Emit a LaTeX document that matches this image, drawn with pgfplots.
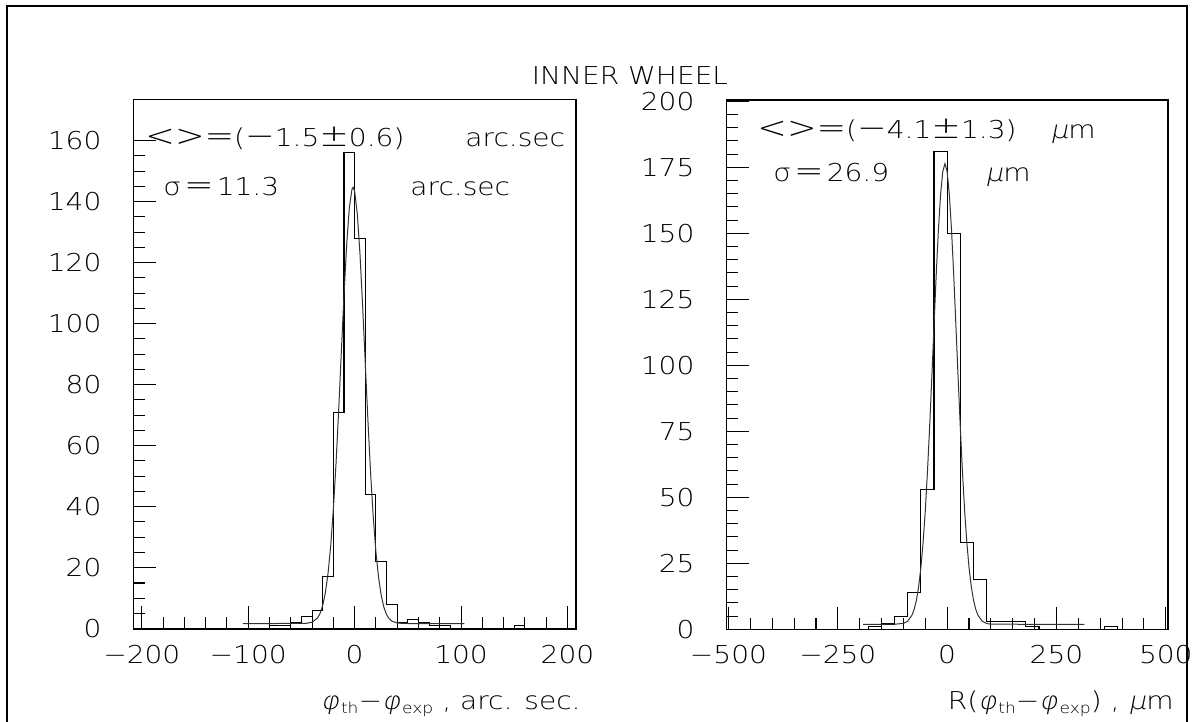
\documentclass[border=0pt]{standalone}
\usepackage{fontspec}
\setmainfont{DejaVuSans-ExtraLight}[Extension=.ttf, FakeStretch=1.14]
\newfontfamily\slfont{DejaVuSans-ExtraLight}[Extension=.ttf, FakeStretch=1.14, FakeSlant=0.2]
\usepackage{pgfplots}
\pgfplotsset{compat=1.18}
\newcommand\sub[1]{\kern0.8pt\raisebox{-0.35ex}{\fontsize{7.5pt}{8pt}\selectfont #1}}
\newcommand\B[1]{{\fontsize{15.5pt}{16pt}\selectfont #1}}
\pgfplotsset{
  hb/.style={
    scale only axis,
    axis line style={line width=0.8pt},
    tick align=inside, tick pos=left,
    major tick length=11.35pt, minor tick length=5.85pt,
    every tick/.style={line width=0.55pt, black},
    /pgf/number format/assume math mode=true,
    yticklabel style={xshift=-12.4pt},
    xticklabel style={yshift=-4.6pt},
    clip=false,
  },
  hist/.style={const plot, line width=0.55pt, black, mark=none},
  fit/.style={line width=0.5pt, black!80, mark=none},
}
\begin{document}
\begin{tikzpicture}[font=\fontsize{12.3pt}{14pt}\selectfont]
\useasboundingbox (0,0) rectangle (600.5pt,-361pt);
\draw[line width=0.9pt] (3.5pt,-362pt) -- (3.5pt,-3pt) -- (593.5pt,-3pt) -- (593.5pt,-362pt);

% left panel
\begin{axis}[hb, at={(66.65pt,-314.35pt)}, anchor=south west,
  width=221.35pt, height=264.6pt,
  xmin=-208, xmax=208, ymin=0, ymax=173.5,
  xtick={-200,-100,0,100,200}, xticklabels={−200,−100,0,100,200},
  minor x tick num=4,
  ytick={0,20,...,160}, minor y tick num=3]
\addplot[hist] coordinates {(-200,0) (-80,1) (-70,1) (-60,2) (-50,4) (-40,6) (-30,17) (-20,71) (-10,156) (0,128) (10,44) (20,22) (30,8) (40,2) (50,3) (60,2) (70,1) (80,1) (90,0) (150,1) (160,0) (200,0)};
\addplot[fit] coordinates {(-105,1.7) (-50,1.71) (-45,1.79) (-40,2.13) (-35,3.46) (-32.5,5.0) (-30,7.65) (-27.5,11.83) (-25,18.15) (-22.5,27.2) (-20,39.2) (-17.5,54.2) (-15,71.7) (-12.5,90.8) (-10,109.5) (-7.5,125.9) (-5,138.0) (-2.5,144.1) (-1.5,144.7) (0,143.4) (2.5,136.0) (5,122.9) (7.5,105.8) (10,86.9) (12.5,68.1) (15,51.0) (17.5,36.5) (20,25.1) (22.5,16.7) (25,10.84) (27.5,7.0) (30,4.63) (32.5,3.25) (35,2.48) (40,1.87) (45,1.74) (50,1.7) (103,1.7)};
\end{axis}

% right panel
\begin{axis}[hb, at={(363.15pt,-314.65pt)}, anchor=south west,
  width=220.85pt, height=264.65pt,
  xmin=-505, xmax=505, ymin=0, ymax=200.5,
  xtick={-500,-250,0,250,500}, xticklabels={−500,−250,0,250,500},
  minor x tick num=4,
  ytick={0,25,...,200}, minor y tick num=4]
\addplot[hist] coordinates {(-500,0) (-180,1) (-150,2) (-120,5) (-90,14) (-60,53) (-30,181) (0,150) (30,33) (60,19) (90,3) (120,3) (150,3) (180,1) (210,0) (360,1) (390,0) (500,0)};
\addplot[fit] coordinates {(-192,1.9) (-120,1.92) (-100,2.24) (-90,3.08) (-80,5.48) (-75,7.8) (-70,11.3) (-65,16.4) (-60,23.5) (-55,32.9) (-50,44.9) (-45,59.7) (-40,76.8) (-35,95.6) (-30,115.2) (-25,134.3) (-20,151.3) (-15,164.7) (-10,173.4) (-5,176.4) (0,173.4) (5,164.7) (10,151.3) (15,134.3) (20,115.2) (25,95.6) (30,76.8) (35,59.7) (40,44.9) (45,32.9) (50,23.5) (55,16.4) (60,11.3) (65,7.8) (70,5.48) (80,3.08) (90,2.24) (100,1.92) (314,1.9)};
\end{axis}

% texts
\node[anchor=base, inner sep=0pt] at (315pt,-42.5pt) {INNER WHEEL};
\node[anchor=base west, inner sep=0pt] at (72.5pt,-73.5pt) {\B{<}\B{>}\B{=}(\B{−}1.5\B{±}0.6)};
\node[anchor=base west, inner sep=0pt] at (232.5pt,-73.5pt) {arc.sec};
\node[anchor=base west, inner sep=0pt] at (81.5pt,-98pt) {σ\kern1.5pt\B{=}\kern1.5pt11.3};
\node[anchor=base west, inner sep=0pt] at (205pt,-98pt) {arc.sec};
\node[anchor=base west, inner sep=0pt] at (378.5pt,-69.5pt) {\B{<}\B{>}\B{=}(\B{−}4.1\B{±}1.3)};
\node[anchor=base west, inner sep=0pt] at (525pt,-69.5pt) {{\slfont μ}m};
\node[anchor=base west, inner sep=0pt] at (386.5pt,-91pt) {σ\kern1.5pt\B{=}\kern1.5pt26.9};
\node[anchor=base west, inner sep=0pt] at (492.5pt,-91pt) {{\slfont μ}m};
\node[anchor=base east, inner sep=0pt] at (290.5pt,-354.5pt) {{\slfont φ}\sub{th}−{\slfont φ}\sub{exp} , arc. sec.};
\node[anchor=base east, inner sep=0pt] at (587pt,-354.5pt) {R({\slfont φ}\sub{th}−{\slfont φ}\sub{exp}) , {\slfont μ}m};
\end{tikzpicture}
\end{document}
